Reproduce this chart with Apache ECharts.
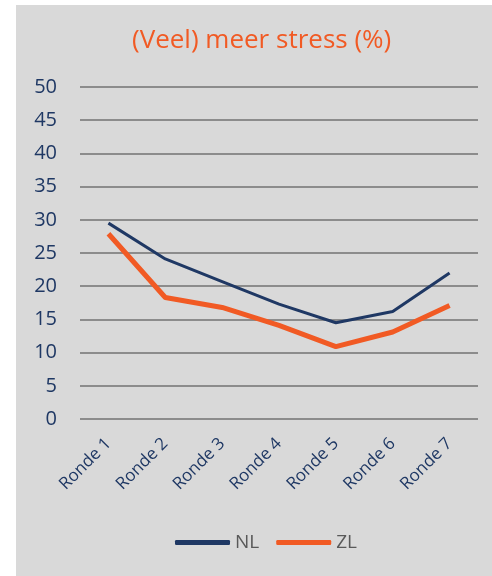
<!DOCTYPE html>
<html>
<head>
<meta charset="utf-8">
<script src="https://cdn.jsdelivr.net/npm/echarts@6/dist/echarts.min.js"></script>
<style>
html,body{margin:0;padding:0;background:#ffffff;}
#c{width:492px;height:576px;}
</style>
</head>
<body>
<div id="c"></div>
<script>
const categories = ['Ronde 1','Ronde 2','Ronde 3','Ronde 4','Ronde 5','Ronde 6','Ronde 7'];
const nlValues = [29.5, 24.1, 20.7, 17.3, 14.5, 16.2, 22.0];
const zlValues = [27.9, 18.3, 16.8, 14.1, 10.9, 13.1, 17.1];
const titleText = '(Veel) meer stress (%)';

const chart = echarts.init(document.getElementById('c'));
chart.setOption({
  animation: false,
  backgroundColor: '#ffffff',
  graphic: [{
    type: 'rect', z: -100, silent: true,
    shape: {x: 16, y: 5, width: 476, height: 571},
    style: {fill: '#d9d9d9'}
  }],
  title: {
    text: titleText,
    left: 127, top: 23,
    textStyle: {color: '#f15a24', fontFamily: 'Open Sans', fontSize: 26, fontWeight: 500}
  },
  legend: {
    left: 175, top: 533, padding: 0,
    icon: 'roundRect',
    itemWidth: 55, itemHeight: 5, itemGap: 17,
    textStyle: {color: '#595959', fontFamily: 'Open Sans', fontSize: 19},
    data: ['NL','ZL']
  },
  grid: {left: 80, right: 14, top: 87, bottom: 157, containLabel: false},
  xAxis: {
    type: 'category',
    data: categories,
    boundaryGap: true,
    axisLine: {show: false},
    axisTick: {show: false},
    axisLabel: {rotate: 45, color: '#1f3864', fontFamily: 'Open Sans', fontSize: 17, margin: 22, interval: 0}
  },
  yAxis: {
    type: 'value', min: 0, max: 50, interval: 5,
    axisLine: {show: false},
    axisTick: {show: false},
    axisLabel: {color: '#1f3864', fontFamily: 'Open Sans', fontSize: 20, margin: 23},
    splitLine: {lineStyle: {color: '#8c8c8c', width: 2}}
  },
  series: [
    {name: 'NL', type: 'line', data: nlValues, symbol: 'none',
     lineStyle: {color: '#1f3864', width: 3}, itemStyle: {color: '#1f3864'}},
    {name: 'ZL', type: 'line', data: zlValues, symbol: 'none',
     lineStyle: {color: '#f15a24', width: 5}, itemStyle: {color: '#f15a24'}}
  ]
});
</script>
</body>
</html>
